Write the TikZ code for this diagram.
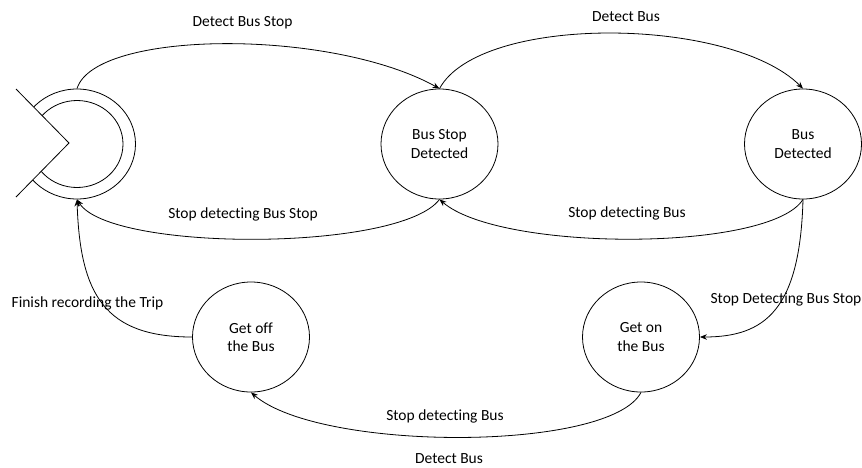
\documentclass[tikz,border=0pt]{standalone}
\usepackage{fontspec}
\setmainfont{Carlito}[Ligatures={NoCommon,NoRare,NoContextual}]
\usetikzlibrary{shapes.geometric,arrows.meta}
\begin{document}
\begin{tikzpicture}[x=1pt,y=-1pt,
  state/.style={draw, ellipse, line width=0.8pt, minimum width=117pt, minimum height=110pt, inner sep=0pt, align=center, font=\fontsize{15.5}{18.5}\selectfont},
  inner/.style={draw, ellipse, line width=0.8pt, minimum width=92pt, minimum height=87pt, inner sep=0pt},
  lbl/.style={font=\fontsize{15.5}{18.5}\selectfont, inner sep=0pt},
  edge/.style={line width=0.8pt, -{Stealth[length=7pt,width=5.5pt]}}]
\useasboundingbox (0,0) rectangle (862,467);
% states
\node[state] (start) at (77,144) {};
\node[inner] (starti) at (77,144) {};
\fill[white] (16,89) -- (69,143) -- (16,197) -- (0,197) -- (0,89) -- cycle;
\draw[line width=0.8pt] (16,89) -- (69,143) -- (16,197);
\node[state] (bsd) at (439.5,144) {Bus Stop\\Detected};
\node[state] (bd) at (803,144) {Bus\\Detected};
\node[state] (getoff) at (251,337) {Get off\\the Bus};
\node[state] (geton) at (641,337) {Get on\\the Bus};
% edges
\draw[edge] (start.north) .. controls (95,30) and (330,28) .. (bsd.north);
\draw[edge] (bsd.north) .. controls (480,14) and (730,16) .. (bd.north);
\draw[edge] (bd.south) .. controls (770,252) and (500,252) .. (bsd.south);
\draw[edge] (bsd.south) .. controls (400,252) and (110,252) .. (start.south);
\draw[edge] (bd.south) .. controls (800,310) and (765,337) .. (geton.east);
\draw[edge] (geton.south) .. controls (610,452) and (320,452) .. (getoff.south);
\draw[edge] (getoff.west) .. controls (105,337) and (80,295) .. (start.south);
% labels
\node[lbl] (l1) at (242.5,23) {Detect Bus Stop};
\node[lbl] (l2) at (626,17) {Detect Bus};
\node[lbl] (l3) at (627,213) {Stop detecting Bus};
\node[lbl] (l4) at (243,214) {Stop detecting Bus Stop};
\node[lbl] (l5) at (786,299) {Stop Detecting Bus Stop};
\node[lbl] (l6) at (87.5,303) {Finish recording the Trip};
\node[lbl] (l7) at (445,416) {Stop detecting Bus};
\node[lbl] (l8) at (449,458.5) {Detect Bus};
\end{tikzpicture}
\end{document}
